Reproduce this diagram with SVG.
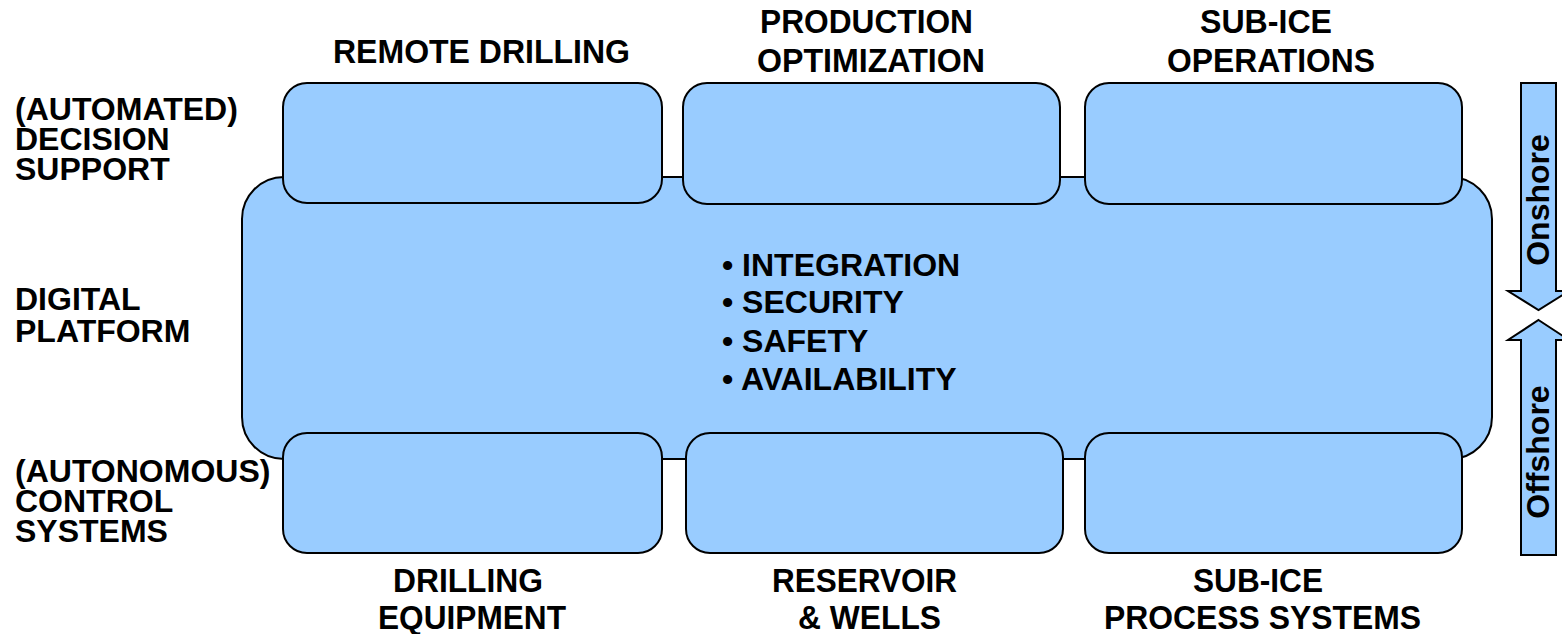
<svg xmlns="http://www.w3.org/2000/svg" width="1562" height="634" viewBox="0 0 1562 634">
<style>
.box{fill:#99CCFF;stroke:#000;stroke-width:2}
.lbl{font-family:"Liberation Sans",Arial,sans-serif;font-weight:bold;font-size:32px;fill:#000}
.cnd{font-family:"Liberation Sans",Arial,sans-serif;font-weight:bold;font-size:34px;fill:#000;text-anchor:middle}
</style>
<rect width="1562" height="634" fill="#fff"/>
<g id="platform">
<rect class="box" x="242" y="177" width="1250" height="282" rx="42" ry="42"/>
<text class="lbl" x="722" y="276">• INTEGRATION</text>
<text class="lbl" x="722" y="313">• SECURITY</text>
<text class="lbl" x="722" y="352">• SAFETY</text>
<text class="lbl" x="722" y="390">• AVAILABILITY</text>
</g>
<g id="remote-drilling">
<rect class="box" x="283" y="83" width="379" height="120" rx="24" ry="24"/>
<text class="cnd" x="481.5" y="63" textLength="297" lengthAdjust="spacingAndGlyphs">REMOTE DRILLING</text>
</g>
<g id="production-optimization">
<rect class="box" x="683" y="83" width="377" height="121" rx="24" ry="24"/>
<text class="cnd" x="866.5" y="33" textLength="213" lengthAdjust="spacingAndGlyphs">PRODUCTION</text>
<text class="cnd" x="871" y="72" textLength="228" lengthAdjust="spacingAndGlyphs">OPTIMIZATION</text>
</g>
<g id="sub-ice-operations">
<rect class="box" x="1085" y="83" width="377" height="121" rx="24" ry="24"/>
<text class="cnd" x="1266" y="33" textLength="132" lengthAdjust="spacingAndGlyphs">SUB-ICE</text>
<text class="cnd" x="1271" y="72" textLength="208" lengthAdjust="spacingAndGlyphs">OPERATIONS</text>
</g>
<g id="drilling-equipment">
<rect class="box" x="283" y="433" width="379" height="120" rx="24" ry="24"/>
<text class="cnd" x="468" y="592" textLength="150" lengthAdjust="spacingAndGlyphs">DRILLING</text>
<text class="cnd" x="472" y="629" textLength="188" lengthAdjust="spacingAndGlyphs">EQUIPMENT</text>
</g>
<g id="reservoir-wells">
<rect class="box" x="686" y="433" width="377" height="120" rx="24" ry="24"/>
<text class="cnd" x="864.5" y="592" textLength="185" lengthAdjust="spacingAndGlyphs">RESERVOIR</text>
<text class="cnd" x="869.5" y="629" textLength="143" lengthAdjust="spacingAndGlyphs">&amp; WELLS</text>
</g>
<g id="sub-ice-process-systems">
<rect class="box" x="1085" y="433" width="377" height="120" rx="24" ry="24"/>
<text class="cnd" x="1258" y="592" textLength="130" lengthAdjust="spacingAndGlyphs">SUB-ICE</text>
<text class="cnd" x="1262.5" y="629" textLength="317" lengthAdjust="spacingAndGlyphs">PROCESS SYSTEMS</text>
</g>
<g id="layer-labels">
<text class="lbl" x="15" y="120">(AUTOMATED)</text>
<text class="lbl" x="15" y="150">DECISION</text>
<text class="lbl" x="15" y="180">SUPPORT</text>
<text class="lbl" x="15" y="310">DIGITAL</text>
<text class="lbl" x="15" y="342">PLATFORM</text>
<text class="lbl" x="15" y="482">(AUTONOMOUS)</text>
<text class="lbl" x="15" y="512">CONTROL</text>
<text class="lbl" x="15" y="542">SYSTEMS</text>
</g>
<g id="arrows">
<g id="onshore">
<polygon class="box" points="1521,83 1556,83 1556,291 1569,291 1538.5,310 1508,291 1521,291"/>
<text class="lbl" text-anchor="middle" transform="translate(1549,200) rotate(-90)">Onshore</text>
</g>
<g id="offshore">
<polygon class="box" points="1538.5,320 1569,340 1556,340 1556,555 1521,555 1521,340 1508,340"/>
<text class="lbl" text-anchor="middle" transform="translate(1549,452) rotate(-90)">Offshore</text>
</g>
</g>
</svg>
